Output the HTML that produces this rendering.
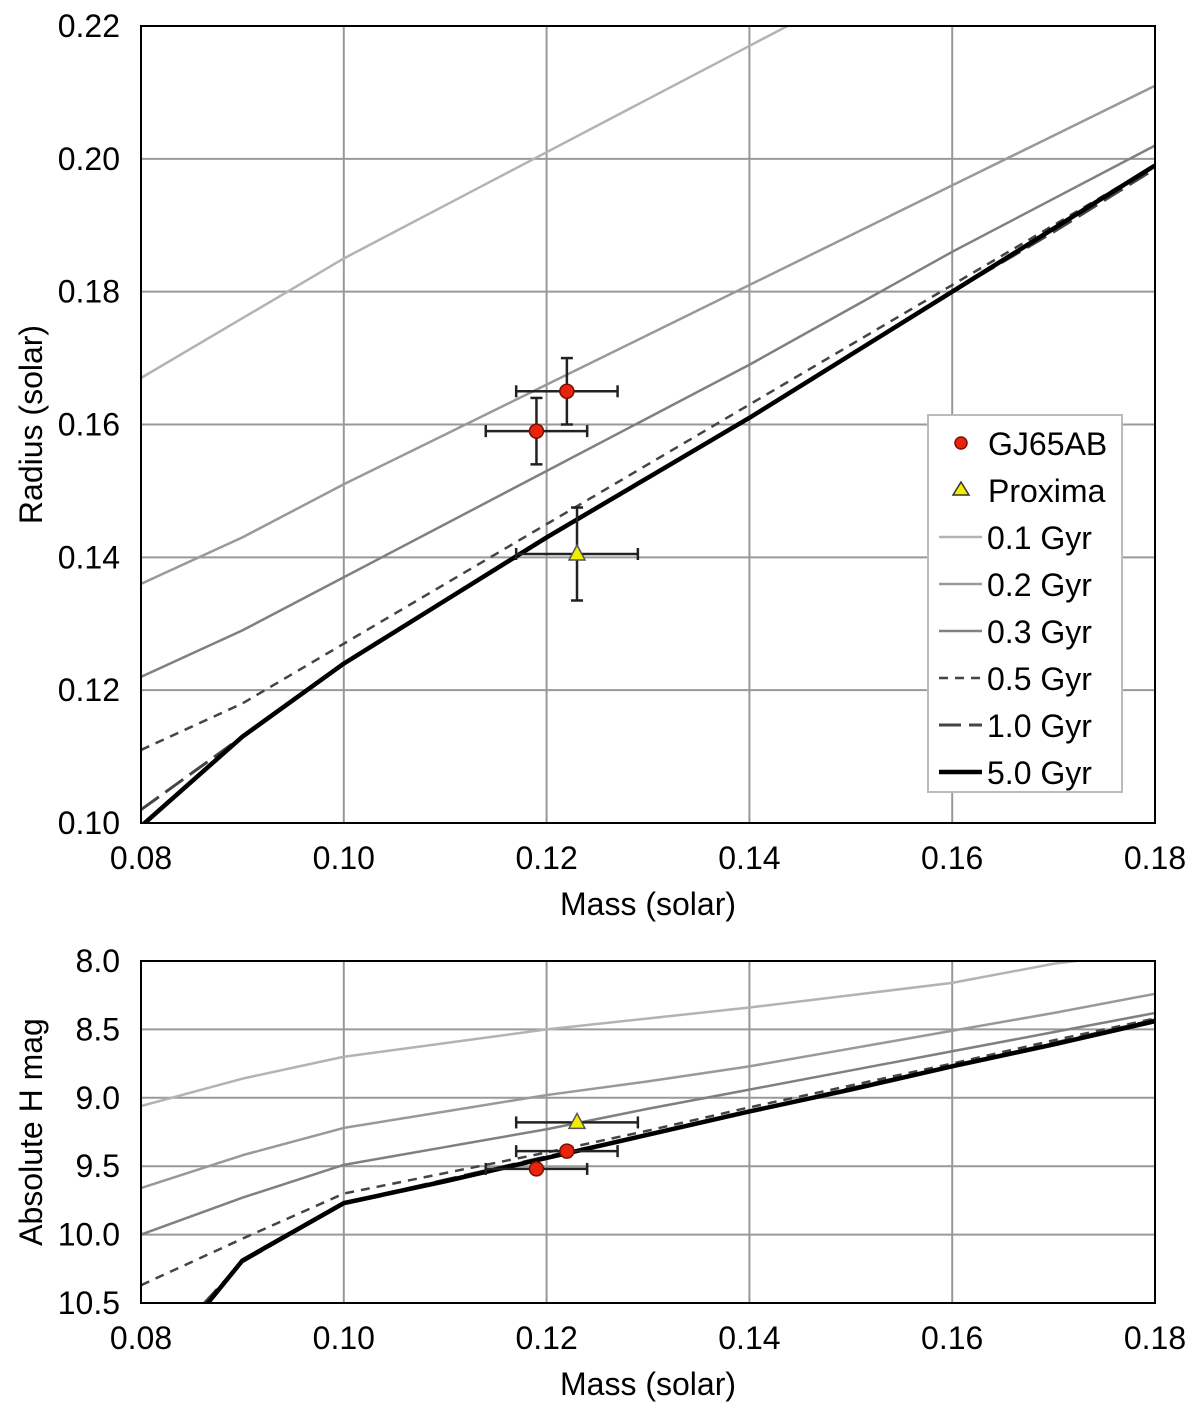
<!DOCTYPE html>
<html><head><meta charset="utf-8"><style>
body{margin:0;background:#fff;}
svg text{font-family:"Liberation Sans",Helvetica,sans-serif;fill:#000;}
</style></head><body>
<svg id="chart" width="1200" height="1411" viewBox="0 0 1200 1411" xmlns="http://www.w3.org/2000/svg"></svg>
<script>
const masses = [0.08,0.09,0.10,0.11,0.12,0.13,0.14,0.15,0.16,0.17,0.18];
// top panel radius (solar)
const r01 = [0.167,0.176,0.185,0.193,0.201,0.209,0.217,0.225,0.233,0.241,0.249];
const r02 = [0.136,0.143,0.151,0.1585,0.166,0.1735,0.181,0.1885,0.196,0.2035,0.211];
const r03 = [0.122,0.129,0.137,0.145,0.153,0.161,0.169,0.1775,0.186,0.194,0.202];
const r05 = [0.111,0.118,0.127,0.136,0.145,0.154,0.163,0.172,0.181,0.190,0.199];
const r10 = [0.102,0.113,0.124,0.1335,0.143,0.152,0.161,0.1705,0.180,0.189,0.1985];
const r50 = [0.0995,0.113,0.124,0.1335,0.143,0.152,0.161,0.1705,0.180,0.1895,0.199];
// bottom panel absolute H mag
const h01 = [9.06,8.86,8.70,8.60,8.50,8.42,8.34,8.25,8.16,8.02,7.93];
const h02 = [9.66,9.42,9.22,9.10,8.98,8.88,8.77,8.64,8.51,8.38,8.24];
const h03 = [10.0,9.73,9.49,9.36,9.23,9.08,8.94,8.80,8.66,8.52,8.38];
const h05 = [10.37,10.03,9.70,9.55,9.40,9.24,9.07,8.91,8.75,8.58,8.42];
const h10 = [11.0,10.2,9.77,9.60,9.43,9.27,9.10,8.93,8.77,8.60,8.43];
const h50 = [11.1,10.19,9.77,9.61,9.44,9.27,9.10,8.94,8.77,8.61,8.44];
const gjMass = [0.122,0.119];
const gjMassErr = [0.005,0.005];
const gjRadius = [0.165,0.159];
const gjRadiusErr = [0.005,0.005];
const gjH = [9.39,9.52];
const pxMass = [0.123];
const pxMassErr = [0.006];
const pxRadius = [0.1405];
const pxRadiusErr = [0.007];
const pxH = [9.18];
const xTicks = ["0.08","0.10","0.12","0.14","0.16","0.18"];
const yTicksTop = ["0.10","0.12","0.14","0.16","0.18","0.20","0.22"];
const yTicksBot = ["8.0","8.5","9.0","9.5","10.0","10.5"];
const legendLabels = ["GJ65AB","Proxima","0.1 Gyr","0.2 Gyr","0.3 Gyr","0.5 Gyr","1.0 Gyr","5.0 Gyr"];

const NS="http://www.w3.org/2000/svg";
const svg=document.getElementById('chart');
function mk(tag,attrs,parent){const e=document.createElementNS(NS,tag);for(const k in attrs)e.setAttribute(k,attrs[k]);(parent||svg).appendChild(e);return e;}
const X0=141,X1=1155;
const xs=m=>X0+(m-0.08)/(0.10)*(X1-X0);
const T0=26,T1=823; const ysT=r=>T1-(r-0.10)/0.12*(T1-T0);
const B0=961,B1=1303; const ysB=h=>B0+(h-8.0)/2.5*(B1-B0);
const FS=32;

const styles=[
 {c:'#b3b3b3',w:2.5,d:''},{c:'#999',w:2.5,d:''},{c:'#808080',w:2.5,d:''},
 {c:'#444',w:2.5,d:'9,7'},{c:'#444',w:3,d:'22,8'},{c:'#000',w:4.5,d:''}];
const names=['0-1-gyr','0-2-gyr','0-3-gyr','0-5-gyr','1-0-gyr','5-0-gyr'];

function panel(id,top,bot,ys,tickLabels,tickVals,series,ptsGJ,ptsPX,yTitle,withLegend){
  const g=mk('g',{});
  
  
  const cp=mk('clipPath',{id:'clip-'+id},g);mk('rect',{x:X0,y:top,width:X1-X0,height:bot-top},cp);
  xTicks.forEach((t,i)=>{const x=xs(0.08+i*0.02);
    const l=mk('line',{x1:x,x2:x,y1:top,y2:bot,stroke:'#999','stroke-width':2},g);
    
    
    const tx=mk('text',{x:x,y:bot+46,'text-anchor':'middle','font-size':FS},g);tx.textContent=t;
    
    });
  tickLabels.forEach((t,i)=>{const y=ys(tickVals[i]);
    const l=mk('line',{x1:X0,x2:X1,y1:y,y2:y,stroke:'#999','stroke-width':2},g);
    
    
    const tx=mk('text',{x:120,y:y+11,'text-anchor':'end','font-size':FS},g);tx.textContent=t;
    
    });
  const lg=mk('g',{'clip-path':'url(#clip-'+id+')'},g);
  series.forEach((s,i)=>{const st=styles[i];
    const p=mk('polyline',{points:masses.map((m,j)=>xs(m)+','+ys(s[j])).join(' '),fill:'none',stroke:st.c,'stroke-width':st.w,'stroke-dasharray':st.d,'stroke-linejoin':'round'},lg);
    
    });
  const f=mk('rect',{x:X0,y:top,width:X1-X0,height:bot-top,fill:'none',stroke:'#000','stroke-width':2},g);
  
  
  function err(x,y,xe,ye){
    const e=mk('g',{stroke:'#222','stroke-width':2.5},g);
    
    
    const x1=xs(x-xe),x2=xs(x+xe),yy=ys(y);
    mk('line',{x1:x1,x2:x2,y1:yy,y2:yy},e);mk('line',{x1:x1,x2:x1,y1:yy-6,y2:yy+6},e);mk('line',{x1:x2,x2:x2,y1:yy-6,y2:yy+6},e);
    if(ye){const y1=ys(y-ye),y2=ys(y+ye),xx=xs(x);
      mk('line',{x1:xx,x2:xx,y1:y1,y2:y2},e);mk('line',{x1:xx-6,x2:xx+6,y1:y1,y2:y1},e);mk('line',{x1:xx-6,x2:xx+6,y1:y2,y2:y2},e);}
  }
  ptsGJ.v.forEach((v,i)=>{err(gjMass[i],v,gjMassErr[i],ptsGJ.e?ptsGJ.e[i]:0);
    const c=mk('circle',{cx:xs(gjMass[i]),cy:ys(v),r:7,fill:'#e8250c',stroke:'#7a1005','stroke-width':1.5},g);
    
    });
  ptsPX.v.forEach((v,i)=>{err(pxMass[i],v,pxMassErr[i],ptsPX.e?ptsPX.e[i]:0);
    const x=xs(pxMass[i]),y=ys(v);
    const t=mk('polygon',{points:`${x},${y-9} ${x-8},${y+6} ${x+8},${y+6}`,fill:'#f2ee00',stroke:'#555','stroke-width':1.5},g);
    
    });
  const yt=mk('text',{x:0,y:0,'font-size':FS,'text-anchor':'middle',transform:`translate(42,${(top+bot)/2}) rotate(-90)`},g);yt.textContent=yTitle;
  
  
  const xt=mk('text',{x:648,y:bot+92,'font-size':FS,'text-anchor':'middle'},g);xt.textContent='Mass (solar)';
  
  
  if(withLegend){
    const L=mk('g',{},g);
    
    
    mk('rect',{x:928,y:415,width:194,height:377,fill:'#fff',stroke:'#bbb','stroke-width':2},L);
    legendLabels.forEach((lab,i)=>{const y=443+i*47;
      const it=mk('g',{},L);
      
      
      if(i===0)mk('circle',{cx:961,cy:y,r:6,fill:'#e8250c',stroke:'#7a1005','stroke-width':1.5},it);
      else if(i===1)mk('polygon',{points:`961,${y-8} 953,${y+5} 969,${y+5}`,fill:'#f2ee00',stroke:'#333','stroke-width':1.5},it);
      else{const st=styles[i-2];mk('line',{x1:939,x2:982,y1:y,y2:y,stroke:st.c,'stroke-width':st.w,'stroke-dasharray':st.d},it);}
      const tx=mk('text',{x:i<2?988:987,y:y+12,'font-size':FS},it);tx.textContent=lab;});
  }
}
panel('radius-panel',T0,T1,ysT,yTicksTop,[0.10,0.12,0.14,0.16,0.18,0.20,0.22],[r01,r02,r03,r05,r10,r50],
  {v:gjRadius,e:gjRadiusErr},{v:pxRadius,e:pxRadiusErr},'Radius (solar)',true);
panel('hmag-panel',B0,B1,ysB,yTicksBot,[8.0,8.5,9.0,9.5,10.0,10.5],[h01,h02,h03,h05,h10,h50],
  {v:gjH},{v:pxH},'Absolute H mag',false);
</script>
</body></html>
